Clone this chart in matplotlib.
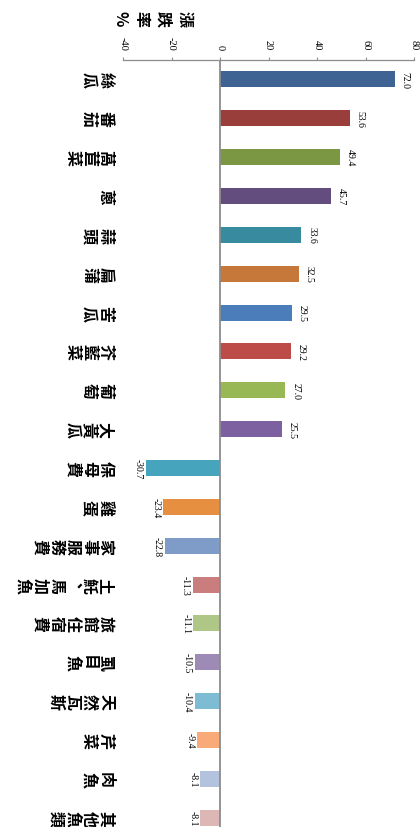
import matplotlib
matplotlib.use('Agg')
import matplotlib.pyplot as plt
from matplotlib import transforms

# items, ordered top to bottom
items = ['絲瓜', '番茄', '萵苣菜', '蔥', '蒜頭', '扁蒲', '苦瓜', '芥藍菜', '葡萄', '大黃瓜',
         '保母費', '雞蛋', '家事服務費', '土魠、馬加魚', '旅館住宿費', '虱目魚', '天然瓦斯',
         '芹菜', '肉魚', '其他魚類']
changes = [72.0, 53.6, 49.4, 45.7, 33.6, 32.5, 29.5, 29.2, 27.0, 25.5,
           -30.7, -23.4, -22.8, -11.3, -11.1, -10.5, -10.4, -9.4, -8.1, -8.1]
colors = ['#3F6493', '#9A3E3B', '#7C9744', '#634C7E', '#388A9E', '#C5783A', '#4A7DBA',
          '#BD4B48', '#97B855', '#7C60A0', '#46A4BD', '#E78F40', '#7F9CC8', '#C97D7C',
          '#AEC686', '#9D8AB5', '#7DBCD3', '#F8AA79', '#B3C3DD', '#DCB7B6']
ticks = [-40, -20, 0, 20, 40, 60, 80]
title = '漲跌率%'

cjk = ['Noto Sans CJK TC', 'DejaVu Sans']
num_font = 'Liberation Serif'

W, H = 420, 828
fig = plt.figure(figsize=(W / 100, H / 100), dpi=100)
ax = fig.add_axes([123 / W, 0, 291 / W, 1 - 61 / H])

pos = list(range(len(items)))
ax.barh(pos, changes, height=0.41, color=colors, zorder=2)
ax.axvline(0, color='#8C8C8C', lw=1.3, zorder=3)

ax.set_xlim(-40, 80)
ax.set_ylim(len(items) - 0.76, -0.5)

# value labels, turned like the rest of the chart
for p, v in zip(pos, changes):
    if v >= 0:
        ax.text(v + 2.4, p, f'{v:.1f}', rotation=-90, ha='left', va='center',
                fontsize=7, family=num_font)
    else:
        ax.text(v - 1.2, p, f'{v:.1f}', rotation=-90, ha='right', va='center',
                fontsize=7, family=num_font)

ax.xaxis.tick_top()
ax.set_xticks(ticks)
ax.set_xticklabels([str(t) for t in ticks], rotation=-90, family=num_font, fontsize=7.5)
ax.tick_params(axis='x', direction='out', length=2.5, width=0.8, color='#8C8C8C', pad=5)
ax.set_yticks([])

for side in ['left', 'right', 'bottom']:
    ax.spines[side].set_visible(False)
ax.spines['top'].set_color('#8C8C8C')
ax.spines['top'].set_linewidth(0.9)

# category names: vertical text turned clockwise, one glyph at a time
trans = transforms.blended_transform_factory(fig.transFigure, ax.transData)
for p, name in zip(pos, items):
    for i, ch in enumerate(name):
        dy = 0.12 if ch == '、' else 0
        ax.text((105.5 - i * 16.4) / W, p + dy, ch, transform=trans, rotation=-90,
                ha='center', va='center', family=cjk, fontweight='bold', fontsize=11.5)

for i, ch in enumerate(title):
    fig.text((184.5 - i * 21.5) / W, 1 - 19 / H, ch, rotation=-90, ha='center', va='center',
             family=cjk, fontweight='bold', fontsize=11.5)

fig.savefig('out.png', dpi=100)
plt.close()
